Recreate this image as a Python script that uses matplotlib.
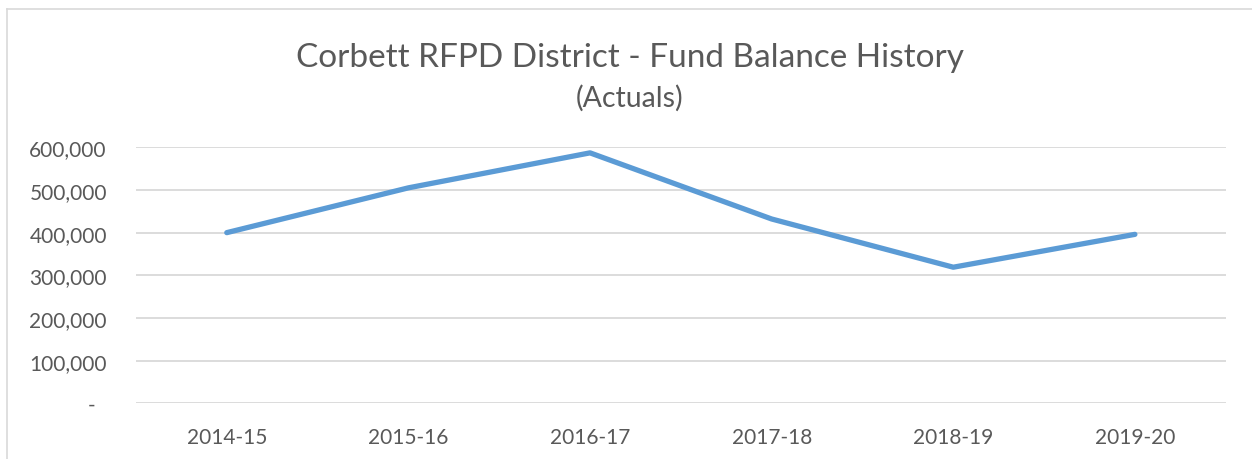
import matplotlib
matplotlib.use("Agg")
import matplotlib.pyplot as plt
from matplotlib.ticker import FuncFormatter
from matplotlib.lines import Line2D

# datos
years = ["2014-15", "2015-16", "2016-17", "2017-18", "2018-19", "2019-20"]
balance = [400000, 505000, 587000, 432000, 319000, 396000]
yticks = [0, 100000, 200000, 300000, 400000, 500000, 600000]

text_col = "#595959"
grid_col = "#D9D9D9"
line_col = "#5B9BD5"
plt.rcParams["font.family"] = ["Lato", "DejaVu Sans"]

fig = plt.figure(figsize=(12.52, 4.6), dpi=100)
ax = fig.add_axes([0.1086, 0.121, 0.8704, 0.5566])

x = range(len(years))
ax.plot(x, balance, color=line_col, linewidth=3.8, solid_capstyle="round",
        solid_joinstyle="round", zorder=3)

ax.set_xlim(-0.5, len(years) - 0.5)
ax.set_ylim(0, 600000)
ax.set_xticks(list(x))
ax.set_xticklabels(years)
ax.set_yticks(yticks)


def fmt(v, pos):
    if v == 0:
        return "-  "
    return f"{int(v):,}"


ax.yaxis.set_major_formatter(FuncFormatter(fmt))
ax.tick_params(axis="both", length=0, labelsize=15, labelcolor=text_col)
ax.tick_params(axis="y", pad=21)
ax.tick_params(axis="x", pad=17)
ax.grid(axis="y", color=grid_col, linewidth=1.3)
ax.set_axisbelow(True)
for s in ax.spines.values():
    s.set_visible(False)

fig.text(0.503, 0.874, "Corbett RFPD District - Fund Balance History",
         ha="center", va="center", fontsize=24, color=text_col)
fig.text(0.503, 0.787, "(Actuals)", ha="center", va="center",
         fontsize=20.5, color=text_col)

# borde del grafico (recortado a la derecha y abajo)
fig.add_artist(Line2D([7 / 1252, 7 / 1252], [0, 1 - 10 / 460],
                      transform=fig.transFigure, color="#D9D9D9", linewidth=1.2))
fig.add_artist(Line2D([7 / 1252, 1], [1 - 10 / 460, 1 - 10 / 460],
                      transform=fig.transFigure, color="#D9D9D9", linewidth=1.2))

fig.savefig("out.png", dpi=100)
